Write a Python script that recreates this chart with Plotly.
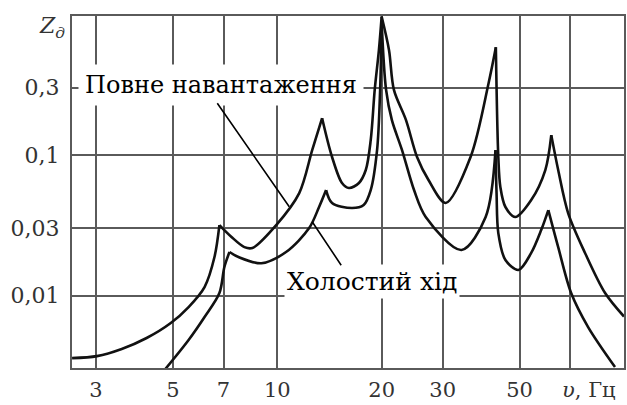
import plotly.graph_objects as go

# Frequency response of the dynamic factor Z_д (log-log), two operating modes
full_f = [2.56, 3.02, 3.56, 4.20, 4.93, 5.55, 6.17, 6.59, 6.81, 7.38, 8.04, 8.48,
          9.93, 11.57, 12.61, 13.47, 14.39, 15.37, 16.1, 17.2, 18.0, 18.6, 19.1, 19.64, 20.0,
          21.0, 21.7, 23.5, 25.3, 27.3, 30.6, 36.1, 40.7, 42.7, 43.4, 44.0, 45.5, 48.6, 54.0,
          59.3, 61.7, 64.6, 69.0, 77.2, 88.2, 100.0]
full_z = [0.00360, 0.00372, 0.00418, 0.00500, 0.00639, 0.00830, 0.01151, 0.0188, 0.0317, 0.0261, 0.0221, 0.0218,
          0.0317, 0.0535, 0.108, 0.182, 0.0965, 0.0631, 0.0581, 0.0631, 0.078, 0.127, 0.289, 0.555, 0.96,
          0.555, 0.289, 0.177, 0.0965, 0.0662, 0.0455, 0.0965, 0.324, 0.58, 0.0965, 0.059, 0.0426, 0.0362, 0.0478,
          0.078, 0.138, 0.078, 0.0386, 0.0201, 0.01043, 0.0071]

idle_f = [4.75, 5.55, 6.17, 6.81, 7.04, 7.28, 7.73, 9.00, 10.6, 12.36, 13.2, 13.83,
          14.39, 16.43, 17.75, 18.6, 19.4, 19.8, 20.0, 20.6, 21.4, 22.9, 24.8, 26.8, 34.0,
          39.9, 42.6, 42.9, 43.4, 45.5, 49.6, 54.0, 57.7, 60.5, 64.6, 70.4, 78.8, 94.2]
idle_z = [0.00300, 0.00484, 0.00705, 0.01043, 0.0160, 0.0204, 0.0188, 0.0170, 0.0204, 0.0302, 0.0426, 0.0562,
          0.0455, 0.0419, 0.044, 0.0562, 0.108, 0.289, 0.88, 0.289, 0.177, 0.108, 0.0562, 0.0362, 0.0211,
          0.0362, 0.108, 0.0535, 0.0278, 0.0179, 0.0152, 0.0201, 0.0292, 0.0405, 0.0221, 0.01043, 0.00598, 0.00311]

x_ticks = [3, 5, 7, 10, 20, 30, 50, 70]
x_labels = ["3", "5", "7", "10", "20", "30", "50", ""]
y_ticks = [0.01, 0.03, 0.1, 0.3]
y_labels = ["0,01", "0,03", "0,1", "0,3"]

label_full = "Повне навантаження"
label_idle = "Холостий хід"

serif = "DejaVu Serif"
grid_col = "#5a5a5a"
text_col = "#333333"


def resonance_branches(fx, zy):
    """Split a curve at its resonance peaks so each smooth branch keeps a sharp cusp."""
    cuts = [0]
    for i in range(1, len(zy) - 1):
        if zy[i] > zy[i - 1] and zy[i] > zy[i + 1]:
            cuts.append(i)
    cuts.append(len(zy) - 1)
    return [(fx[a:b + 1], zy[a:b + 1]) for a, b in zip(cuts[:-1], cuts[1:])]


fig = go.Figure()
for fx, zy in ((full_f, full_z), (idle_f, idle_z)):
    for bx, bz in resonance_branches(fx, zy):
        fig.add_trace(go.Scatter(x=bx, y=bz, mode="lines",
                                 line=dict(color="#111111", width=2.6, shape="spline", smoothing=0.9),
                                 showlegend=False, hoverinfo="skip"))

fig.update_xaxes(type="log", range=[0.408, 2.0], tickvals=x_ticks, ticktext=x_labels,
                 showgrid=True, gridcolor=grid_col, gridwidth=1.6,
                 showline=True, linecolor=grid_col, linewidth=2, mirror=True,
                 ticks="", zeroline=False, ticklabelstandoff=2,
                 tickfont=dict(family=serif, size=21, color=text_col))
fig.update_yaxes(type="log", range=[-2.514, -0.014], tickvals=y_ticks, ticktext=y_labels,
                 showgrid=True, gridcolor=grid_col, gridwidth=1.6,
                 showline=True, linecolor=grid_col, linewidth=2, mirror=True,
                 ticks="", zeroline=False, ticklabelstandoff=6,
                 tickfont=dict(family=serif, size=22, color=text_col))

# curve labels in white boxes with leader lines to the curves
fig.add_annotation(xref="paper", yref="paper", x=0.011, y=0.804, xanchor="left", yanchor="middle",
                   text=label_full, showarrow=False, bgcolor="white", borderpad=6,
                   font=dict(family=serif, size=24, color="black"))
fig.add_annotation(xref="paper", yref="paper", x=0.384, y=0.247, xanchor="left", yanchor="middle",
                   text=label_idle, showarrow=False, bgcolor="white", borderpad=2,
                   font=dict(family=serif, size=25, color="black"))
fig.add_annotation(x=1.0346, y=-1.369, xref="x", yref="y", text="", showarrow=True,
                   arrowhead=0, arrowwidth=1.6, arrowcolor="black", ax=-73, ay=-105, standoff=0)
fig.add_annotation(x=1.1007, y=-1.475, xref="x", yref="y", text="", showarrow=True,
                   arrowhead=0, arrowwidth=1.6, arrowcolor="black", ax=30, ay=45, standoff=0)

# axis names
fig.add_annotation(xref="paper", yref="paper", x=-0.036, y=0.966, xanchor="center", yanchor="middle",
                   text="<i>Z</i><sub><i>д</i></sub>", showarrow=False,
                   font=dict(family=serif, size=22, color=text_col))
fig.add_annotation(xref="paper", yref="paper", x=0.936, y=-0.062, xanchor="center", yanchor="middle",
                   text="<i>υ</i>, Гц", showarrow=False,
                   font=dict(family=serif, size=21, color=text_col))

fig.update_layout(width=627, height=405, margin=dict(l=72, r=1, t=16, b=37),
                  plot_bgcolor="white", paper_bgcolor="white")

fig.write_html("out.html")
